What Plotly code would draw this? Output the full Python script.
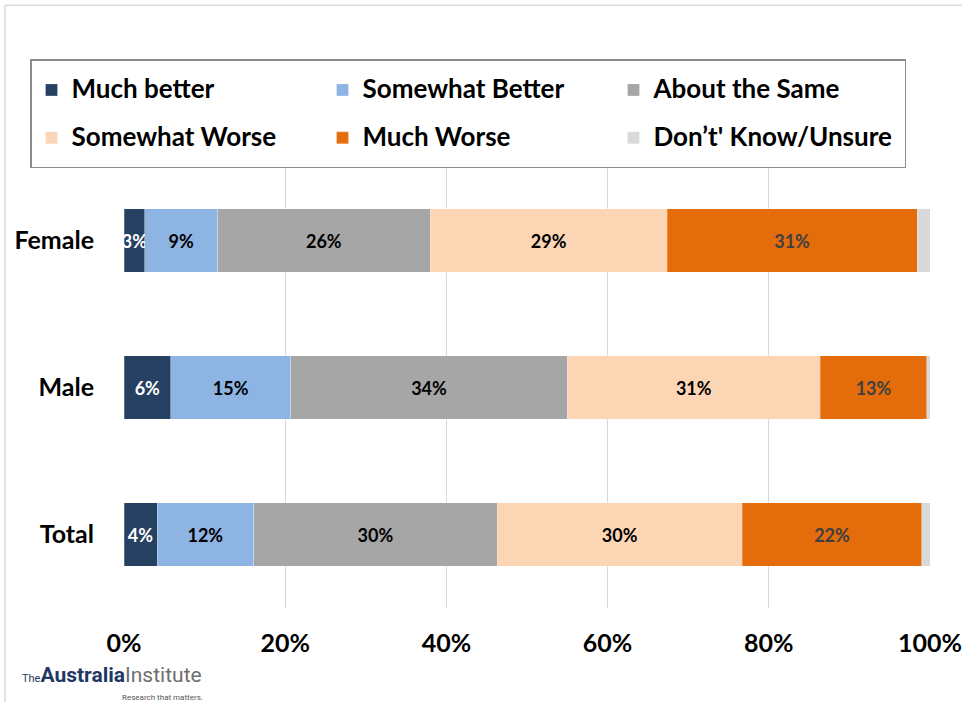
import plotly.graph_objects as go

categories = ["Female", "Male", "Total"]
series_names = ["Much better", "Somewhat Better", "About the Same",
                "Somewhat Worse", "Much Worse", "Don’t' Know/Unsure"]
much_better = [2.6, 5.8, 4.1]
somewhat_better = [9.0, 14.9, 12.0]
about_same = [26.4, 34.3, 30.2]
somewhat_worse = [29.4, 31.4, 30.4]
much_worse = [31.0, 13.2, 22.3]
dont_know = [1.6, 0.4, 1.0]
tick_vals = [0, 20, 40, 60, 80, 100]
tick_text = ["0%", "20%", "40%", "60%", "80%", "100%"]

colors = ["#254061", "#8EB4E3", "#A6A6A6", "#FCD5B5", "#E46C0A", "#D9D9D9"]
label_colors = ["#FFFFFF", "#000000", "#000000", "#000000", "#404040", None]
values = [much_better, somewhat_better, about_same, somewhat_worse, much_worse, dont_know]

FONT = "Lato"
LEG_SIZE = 26
fig = go.Figure()
for name, vals, col, lc in zip(series_names, values, colors, label_colors):
    fig.add_trace(go.Bar(
        y=categories, x=vals, orientation="h",
        name=f"<span style='font-size:{LEG_SIZE}px;baseline-shift:5px'>{name}</span>",
        marker=dict(color=col, line=dict(color="rgba(255,255,255,0.5)", width=0.5)),
        texttemplate="<b>%{x:.0f}%</b>" if lc else None,
        textposition="inside" if lc else "none",
        insidetextanchor="middle",
        textangle=0,
        textfont=dict(color=lc or "#000", size=18, family=FONT),
        constraintext="none",
        hoverinfo="x",
    ))

fig.update_layout(
    barmode="stack",
    bargap=0.565,
    width=962, height=702,
    margin=dict(l=124, r=32, t=167, b=94, autoexpand=False),
    paper_bgcolor="white", plot_bgcolor="white",
    font=dict(family=FONT, color="#000"),
    uniformtext=dict(minsize=18, mode="show"),
    legend=dict(
        orientation="h", x=-0.1166, y=1.244, xanchor="left", yanchor="top",
        bordercolor="#8C8C8C", borderwidth=1.5, bgcolor="white",
        font=dict(size=34.6, family=FONT, color="#000", weight="bold"),
        entrywidth=246, entrywidthmode="pixels",
        traceorder="normal", itemclick=False,
    ),
    xaxis=dict(
        range=[0, 100], tickvals=tick_vals, ticktext=tick_text,
        showgrid=True, gridcolor="#D9D9D9", gridwidth=1,
        zeroline=False, showline=False, automargin=False,
        tickfont=dict(size=25, family=FONT, weight="bold"),
        ticks="outside", ticklen=13, tickcolor="rgba(0,0,0,0)",
        fixedrange=True,
    ),
    yaxis=dict(
        autorange="reversed", automargin=False,
        tickfont=dict(size=25, family=FONT, weight="bold"),
        ticks="outside", ticklen=24, tickcolor="rgba(0,0,0,0)",
        showgrid=False, fixedrange=True,
    ),
)

# Outer chart border (light gray)
fig.add_shape(type="line", xref="paper", yref="paper",
              x0=-0.1476, x1=1.1, y0=1.367, y1=1.367,
              line=dict(color="#D9D9D9", width=1.5))
fig.add_shape(type="line", xref="paper", yref="paper",
              x0=-0.1476, x1=-0.1476, y0=1.367, y1=-0.3,
              line=dict(color="#D9D9D9", width=1.5))

# Logo text
fig.add_annotation(xref="paper", yref="paper", x=-0.129, y=-0.152,
                   xanchor="left", yanchor="middle", showarrow=False,
                   text="<span style='font-size:11px;color:#1F3864'>The</span>"
                        "<span style='font-size:21px;color:#1F3864'><b>Australia</b></span>"
                        "<span style='font-size:21px;color:#6E6E6E'>Institute</span>",
                   font=dict(family="Roboto", size=21))
fig.add_annotation(xref="paper", yref="paper", x=-0.005, y=-0.202,
                   xanchor="left", yanchor="middle", showarrow=False,
                   text="Research that matters.",
                   font=dict(family="Roboto", size=8, color="#555"))

fig.write_html("out.html")
